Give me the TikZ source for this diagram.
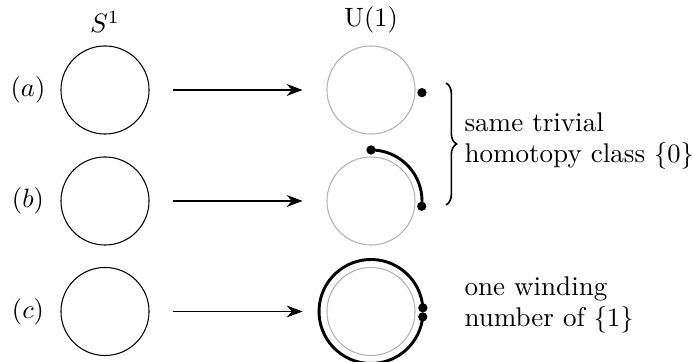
\documentclass[tikz,border=0pt]{standalone}
\usepackage{amsmath}
\usetikzlibrary{arrows.meta, positioning, decorations.pathreplacing}

\begin{document}
\begin{tikzpicture}[
    x=0.377pt, y=0.377pt,
    every node/.style={font=\fontsize{10.2pt}{12pt}\selectfont},
    srccirc/.style={circle, draw, thin, minimum size=33.2pt, inner sep=0pt},
    tgtcirc/.style={circle, draw=black!30, thin, minimum size=33.2pt, inner sep=0pt},
    arrow/.style={-{Stealth[length=6pt, width=4.5pt]}, thin, shorten <=9pt, shorten >=9pt},
    winding/.style={line width=1.1pt},
    dot/.style={circle, fill, inner sep=0pt, minimum size=3.5pt},
    note/.style={align=left, inner sep=0pt, anchor=west},
]
\useasboundingbox (0,0) rectangle (693,362);

\node (lsrc) at (105,340) {$S^1$};
\node (ltgt) at (371,342) {$\mathrm{U}(1)$};

\node (la) at (28,272)  {$(a)$};
\node (lb) at (28,161)  {$(b)$};
\node (lc) at (28,50.5) {$(c)$};

\node[srccirc] (sa) at (105,272)  {};
\node[srccirc] (sb) at (105,161)  {};
\node[srccirc] (sc) at (105,50.5) {};

\node[tgtcirc] (ta) at (371,272)  {};
\node[tgtcirc] (tb) at (371,161)  {};
\node[tgtcirc] (tc) at (371,50.5) {};

\draw[arrow] (sa) -- (ta);
\draw[arrow] (sb) -- (tb);
\draw[arrow] (sc) -- (tc);

% (a) constant map
\node[dot] (aend) at ([shift={(-3:51)}]ta.center) {};

% (b) path shrinking back to a point
\coordinate (bstart) at ([shift={(90:51)}]tb.center);
\draw[winding] (bstart) arc[start angle=90, end angle=-6, radius=51] coordinate (bstop);
\node[dot] (bs) at (bstart) {};
\node[dot] (be) at (bstop) {};

% (c) winds once round
\coordinate (cstart) at ([shift={(4:52)}]tc.center);
\draw[winding] (cstart) arc[start angle=4, end angle=354, radius=52] coordinate (cstop);
\node[dot] (cs) at (cstart) {};
\node[dot] (ce) at (cstop) {};

% brace and notes
\coordinate (brtop) at (446,279);
\coordinate (brbot) at (446,157);
\draw[decorate, decoration={brace, amplitude=4pt}, semithick] (brtop) -- (brbot);

\node[note] (trivial) at (464,221) {same trivial\\homotopy class $\{0\}$};
\node[note] (wind)    at (464,57)  {one winding\\number of $\{1\}$};

\end{tikzpicture}
\end{document}
